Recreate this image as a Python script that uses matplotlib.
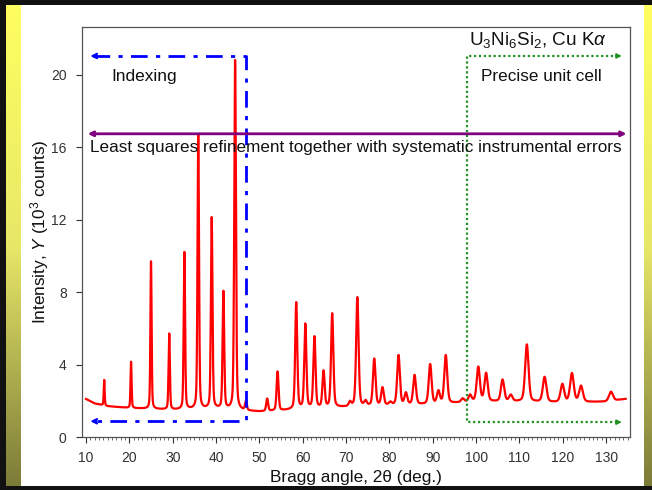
import numpy as np
import matplotlib
matplotlib.use("Agg")
import matplotlib.pyplot as plt
from matplotlib.colors import LinearSegmentedColormap

plt.rcParams['font.family'] = ['Liberation Sans', 'DejaVu Sans']
plt.rcParams['mathtext.fontset'] = 'custom'
plt.rcParams['mathtext.rm'] = 'Liberation Sans'
plt.rcParams['mathtext.it'] = 'Liberation Sans:italic'

# ---- data ----
peak_angles = [14.2, 20.4, 25.0, 29.2, 32.7, 35.9, 39.0, 41.7, 44.4, 46.9,
               51.8, 54.2, 58.5, 60.6, 62.7, 64.8, 66.8, 70.9, 72.6, 74.5,
               76.5, 78.4, 80.2, 82.1, 83.8, 85.8, 89.4, 91.3, 93.0, 96.9,
               98.6, 100.5, 102.3, 106.1, 108.0, 111.7, 115.8, 119.9, 122.1,
               124.2, 131.1]
peak_heights = [3.15, 4.15, 9.7, 5.7, 10.2, 16.7, 12.1, 8.0, 20.8, 1.95,
                2.1, 3.6, 7.4, 6.2, 5.5, 3.6, 6.8, 1.9, 7.7, 1.95,
                4.3, 2.7, 1.9, 4.5, 2.4, 3.4, 4.0, 2.5, 4.5, 2.1,
                2.3, 3.85, 3.5, 3.15, 2.3, 5.1, 3.3, 2.9, 3.5,
                2.8, 2.5]
bg_angles = [10, 12, 15, 20, 30, 40, 46, 50, 55, 60, 70, 80, 90, 100, 110, 120, 130, 134.5]
bg_levels = [2.1, 1.85, 1.7, 1.6, 1.5, 1.55, 1.45, 1.4, 1.45, 1.55, 1.65, 1.75, 1.8, 1.95, 1.95, 1.9, 1.95, 2.1]
x_ticks = [10, 20, 30, 40, 50, 60, 70, 80, 90, 100, 110, 120, 130]
y_ticks = [0, 4, 8, 12, 16, 20]

# ---- profile ----
tt = np.linspace(10, 134.5, 8000)
bg = np.interp(tt, bg_angles, bg_levels)
y = bg.copy()
for a, h in zip(peak_angles, peak_heights):
    amp = h - np.interp(a, bg_angles, bg_levels)
    w = 0.11 + 0.0035 * (a - 10)
    lor = 1.0 / (1.0 + ((tt - a) / w) ** 2)
    gau = np.exp(-np.log(2) * ((tt - a) / w) ** 2)
    y += amp * (0.35 * lor + 0.65 * gau)

fig = plt.figure(figsize=(6.52, 4.90), dpi=100)
fig.patch.set_facecolor('white')

def px(x0, y0, x1, y1):
    W, H = 652, 490
    return [x0 / W, 1 - y1 / H, (x1 - x0) / W, (y1 - y0) / H]

grad = np.linspace(0, 1, 256).reshape(-1, 1)
cm = LinearSegmentedColormap.from_list('yo', ['#FFFF60', '#E8E868', '#7A7A38'])
for rect in [px(6, 0, 20, 490), px(644, 0, 652, 490)]:
    a = fig.add_axes(rect)
    a.imshow(grad, aspect='auto', cmap=cm)
    a.axis('off')
for rect in [px(0, 0, 6, 490), px(0, 0, 652, 5), px(0, 486, 652, 490)]:
    a = fig.add_axes(rect)
    a.set_facecolor('#111111')
    a.set_xticks([]); a.set_yticks([])
    for s in a.spines.values():
        s.set_visible(False)

ax = fig.add_axes(px(82, 27, 630, 437))
ax.plot(tt, y, color='#FF0000', lw=1.6, zorder=2)
ax.set_xlim(9.08, 135.5)
ax.set_ylim(0, 22.65)
ax.set_xticks(x_ticks)
ax.set_xticks(np.arange(10, 136, 1), minor=True)
ax.set_yticks(y_ticks)
ax.tick_params(axis='both', which='major', direction='out', length=4, width=0.8,
               colors='#333333', labelsize=10, labelcolor='#333333')
ax.tick_params(axis='x', which='minor', direction='out', length=2, width=0.6, colors='#555555')
ax.tick_params(axis='x', pad=6)
ax.tick_params(axis='y', pad=7)
for s in ax.spines.values():
    s.set_color('#555555')
    s.set_linewidth(0.9)

ax.set_xlabel('Bragg angle, 2θ (deg.)', fontsize=12.4, color='#111111', labelpad=4)
ax.set_ylabel('Intensity, $\\mathit{Y}$ (10$^3$ counts)', fontsize=12.4, color='#111111', labelpad=0)

# blue indexing arrows
blue = '#0000FF'
ax.plot([11.6, 46.85, 46.85, 11.6], [21.05, 21.05, 0.87, 0.87], color=blue, lw=2,
        ls=(0, (6, 3, 1.5, 3)), zorder=3)
for yy in (21.05, 0.87):
    ax.annotate('', xy=(11.0, yy), xytext=(12.5, yy),
                arrowprops=dict(arrowstyle='->', color=blue, lw=1.5,
                                mutation_scale=8, shrinkA=0, shrinkB=0))

# green precise unit cell arrows
green = '#209020'
ax.plot([132.8, 97.85, 97.85, 132.8], [21.05, 21.05, 0.82, 0.82], color=green, lw=1.6,
        ls=(0, (1, 1.2)), zorder=3)
for yy in (21.05, 0.82):
    ax.annotate('', xy=(133.6, yy), xytext=(132.3, yy),
                arrowprops=dict(arrowstyle='-|>', color=green, lw=1.2,
                                mutation_scale=7, shrinkA=0, shrinkB=0))

# purple least squares double arrow
purple = '#800080'
ax.annotate('', xy=(10.4, 16.75), xytext=(134.7, 16.75),
            arrowprops=dict(arrowstyle='<|-|>', color=purple, lw=2,
                            mutation_scale=7, shrinkA=0, shrinkB=0), zorder=4)

ax.text(15.9, 19.9, 'Indexing', fontsize=12.4, color='#111111', va='center', ha='left')
ax.text(101.2, 19.9, 'Precise unit cell', fontsize=12.3, color='#111111', va='center', ha='left')
ax.text(10.9, 15.97, 'Least squares refinement together with systematic instrumental errors',
        fontsize=12.3, color='#111111', va='center', ha='left', zorder=5)
ax.text(130.3, 21.95, 'U$_3$Ni$_6$Si$_2$, Cu K$\\alpha$', fontsize=13.6, color='#111111',
        va='center', ha='right')

fig.savefig('out.png', dpi=100)
